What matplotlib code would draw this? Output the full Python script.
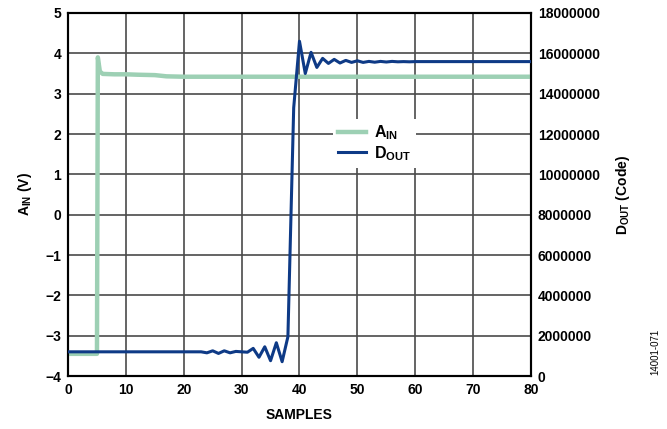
import numpy as np
import matplotlib
matplotlib.use("Agg")
from matplotlib import pyplot as plt

plt.rcParams['font.family'] = ['Liberation Sans', 'DejaVu Sans']
plt.rcParams['font.weight'] = 'bold'
plt.rcParams['mathtext.fontset'] = 'custom'
plt.rcParams['mathtext.rm'] = 'Liberation Sans:bold'
plt.rcParams['mathtext.it'] = 'Liberation Sans:bold'
plt.rcParams['mathtext.bf'] = 'Liberation Sans:bold'

# A_IN input step (volts)
ain_x = [0, 1, 2, 3, 4, 5, 5.15, 5.5, 6, 8, 10, 12, 15, 17, 20, 30, 40, 50, 60, 70, 80]
ain_y = [-3.45, -3.45, -3.45, -3.45, -3.45, -3.45, 3.90, 3.55, 3.49, 3.48, 3.48, 3.47,
         3.46, 3.43, 3.42, 3.42, 3.42, 3.42, 3.42, 3.42, 3.42]

# D_OUT output code per sample
dout_x = list(range(0, 81))
dout_y = ([1.2e6] * 24 +
          [1.15e6, 1.25e6, 1.12e6, 1.25e6, 1.15e6, 1.22e6, 1.2e6, 1.18e6,
           1.37e6, 0.93e6, 1.45e6, 0.76e6, 1.65e6, 0.71e6, 1.95e6,
           13.3e6, 16.6e6, 15.0e6, 16.05e6, 15.3e6, 15.75e6, 15.5e6, 15.7e6,
           15.52e6, 15.65e6, 15.55e6, 15.63e6, 15.55e6, 15.6e6, 15.56e6, 15.6e6,
           15.57e6, 15.6e6, 15.58e6, 15.59e6, 15.58e6] +
          [15.59e6] * 21)

left_ticks = [-4, -3, -2, -1, 0, 1, 2, 3, 4, 5]
right_ticks = [0, 2000000, 4000000, 6000000, 8000000, 10000000, 12000000,
               14000000, 16000000, 18000000]
x_ticks = [0, 10, 20, 30, 40, 50, 60, 70, 80]

green = '#9dd0b4'
blue = '#0e3a86'

fig = plt.figure(figsize=(6.67, 4.29), dpi=100)
ax = fig.add_axes([0.102, 0.1235, 0.694, 0.8462])
ax2 = ax.twinx()

l1, = ax.plot(ain_x, ain_y, color=green, lw=3.2, label=r'A$_{\mathregular{IN}}$', zorder=3)
l2, = ax2.plot(dout_x, dout_y, color=blue, lw=2.2, label=r'D$_{\mathregular{OUT}}$', zorder=4)

ax.set_xlim(0, 80)
ax.set_ylim(-4, 5)
ax2.set_ylim(0, 18000000)
ax.set_xticks(x_ticks)
ax.set_yticks(left_ticks)
ax2.set_yticks(right_ticks)
ax.set_yticklabels([str(t).replace('-', '\u2212') for t in left_ticks])
ax2.set_yticklabels([str(t) for t in right_ticks])

ax.grid(True, color='#4a4a4a', lw=1.2)
ax.tick_params(length=0, labelsize=10, pad=5)
ax2.tick_params(length=0, labelsize=10, pad=5)
for sp in list(ax.spines.values()) + list(ax2.spines.values()):
    sp.set_linewidth(1.5)
    sp.set_color('black')

ax.set_xlabel('SAMPLES', fontsize=10, fontweight='bold', labelpad=8)
ax.set_ylabel(r'A$_{\mathregular{IN}}$ (V)', fontsize=10, fontweight='bold', labelpad=8)
ax2.set_ylabel(r'D$_{\mathregular{OUT}}$ (Code)', fontsize=10, fontweight='bold', labelpad=10)

leg = ax2.legend(handles=[l1, l2], loc='upper left', bbox_to_anchor=(0.555, 0.73),
                 frameon=True, fancybox=False, edgecolor='none', facecolor='white',
                 framealpha=1, fontsize=11.5, handlelength=1.8, handletextpad=0.5,
                 labelspacing=0.1, borderpad=0.3)
leg.set_zorder(10)

fig.text(0.982, 0.18, '14001-071', rotation=90, fontsize=7, fontweight='normal',
         ha='center', va='center')

fig.savefig('out.png', dpi=100)
